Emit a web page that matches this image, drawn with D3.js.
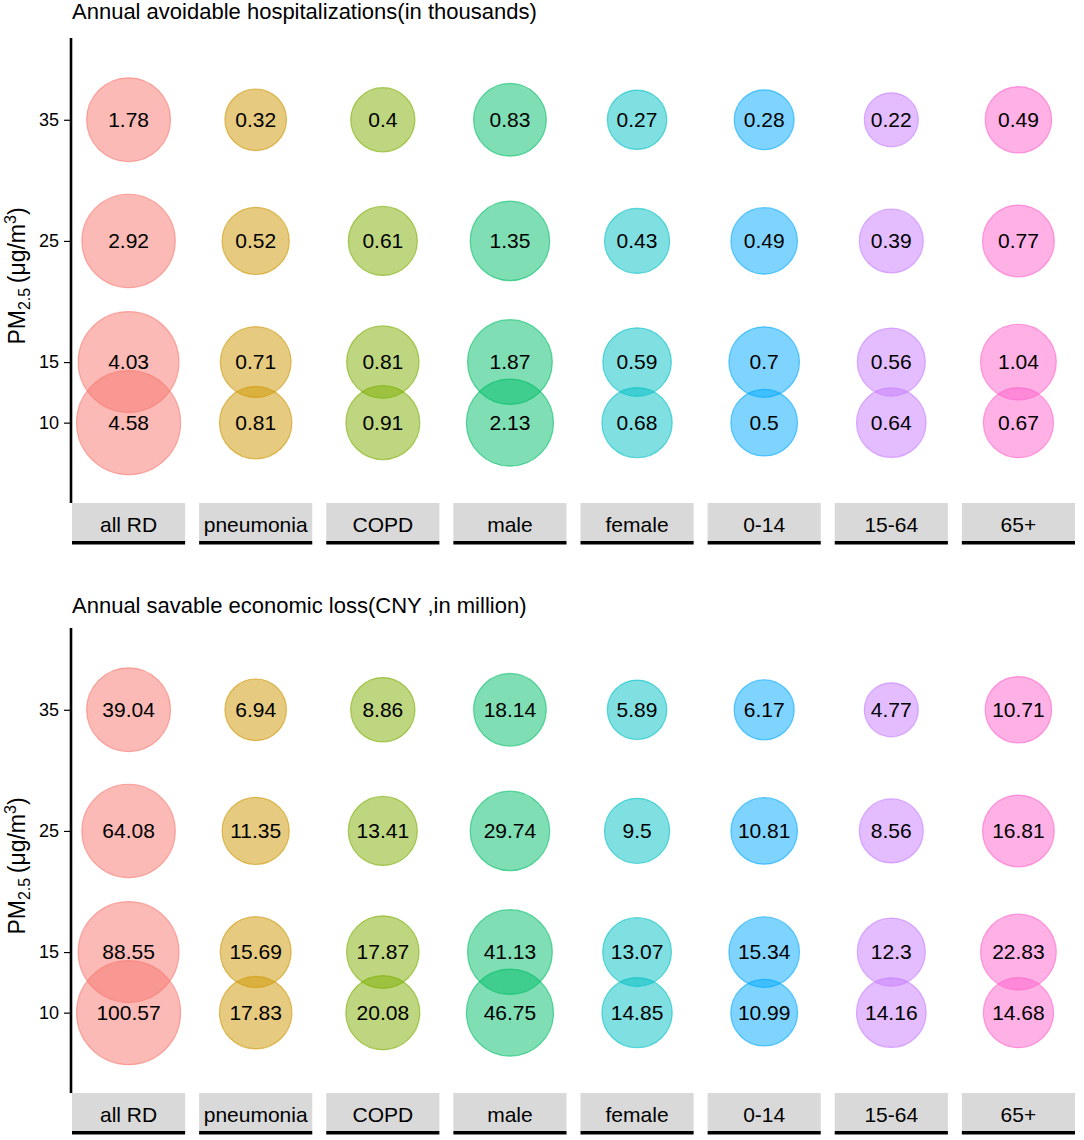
<!DOCTYPE html>
<html>
<head>
<meta charset="utf-8">
<script src="https://cdn.jsdelivr.net/npm/d3@7"></script>
<style>
  body { margin: 0; background: #fff; }
  text { font-family: "Liberation Sans", Arial, sans-serif; }
</style>
</head>
<body>
<div id="chart"></div>
<script>
// categories (facets) and PM2.5 levels
var categories = ["all RD", "pneumonia", "COPD", "male", "female", "0-14", "15-64", "65+"];
var pmLevels = [35, 25, 15, 10];
var colors = ["#F8766D", "#CD9600", "#7CAE00", "#00BE67", "#00BFC4", "#00A9FF", "#C77CFF", "#FF61CC"];

// values per category, in the order of pmLevels
var hospitalizations = [
    [1.78, 2.92, 4.03, 4.58],
    [0.32, 0.52, 0.71, 0.81],
    [0.4, 0.61, 0.81, 0.91],
    [0.83, 1.35, 1.87, 2.13],
    [0.27, 0.43, 0.59, 0.68],
    [0.28, 0.49, 0.7, 0.5],
    [0.22, 0.39, 0.56, 0.64],
    [0.49, 0.77, 1.04, 0.67]
];
var economicLoss = [
    [39.04, 64.08, 88.55, 100.57],
    [6.94, 11.35, 15.69, 17.83],
    [8.86, 13.41, 17.87, 20.08],
    [18.14, 29.74, 41.13, 46.75],
    [5.89, 9.5, 13.07, 14.85],
    [6.17, 10.81, 15.34, 10.99],
    [4.77, 8.56, 12.3, 14.16],
    [10.71, 16.81, 22.83, 14.68]
];
var yTicks = [10, 15, 25, 35];

var width = 1084, height = 1140;
var svg = d3.select("#chart").append("svg").attr("width", width).attr("height", height);

var x = d3.scaleBand().domain(categories).range([72, 1075]).paddingInner(0.11);
var color = d3.scaleOrdinal().domain(categories).range(colors);

function drawPanel(values, title, top, titleY) {
    var panelTop = top + 38, panelBottom = top + 503;
    var g = svg.append("g");

    var y = d3.scaleLinear().domain([3.45, 41.75]).range([top + 502, panelTop]);

    // flatten data
    var points = [];
    categories.forEach(function (c, i) {
        pmLevels.forEach(function (pm, j) {
            points.push({ cat: c, pm: pm, v: values[i][j] });
        });
    });
    var ext = d3.extent(points, function (d) { return d.v; });
    // ggplot-like area scale: diameter 54..104 over the rescaled value
    var r = d3.scaleSqrt().domain([0, ext[1] - ext[0]]).range([27, 52]);

    // title
    g.append("text").attr("x", 72).attr("y", titleY)
        .style("font-size", "22px").text(title);

    // circles
    g.selectAll("circle").data(points).enter().append("circle")
        .attr("cx", function (d) { return x(d.cat) + x.bandwidth() / 2; })
        .attr("cy", function (d) { return y(d.pm); })
        .attr("r", function (d) { return r(d.v - ext[0]); })
        .attr("fill", function (d) { return color(d.cat); })
        .attr("fill-opacity", 0.5)
        .attr("stroke", function (d) { return color(d.cat); })
        .attr("stroke-opacity", 0.6)
        .attr("stroke-width", 1.2);

    g.selectAll("text.lab").data(points).enter().append("text")
        .attr("class", "lab")
        .attr("x", function (d) { return x(d.cat) + x.bandwidth() / 2; })
        .attr("y", function (d) { return y(d.pm); })
        .attr("dy", "0.35em")
        .attr("text-anchor", "middle")
        .style("font-size", "21px")
        .text(function (d) { return d.v; });

    // y axis
    var axis = g.append("g").attr("transform", "translate(70,0)")
        .call(d3.axisLeft(y).tickValues(yTicks).tickSize(6).tickSizeOuter(0).tickPadding(5));
    axis.select(".domain").remove();
    axis.selectAll(".tick line").attr("stroke-width", 1.2);
    axis.selectAll(".tick text").style("font-size", "18px").style("font-family", "Liberation Sans, Arial, sans-serif").attr("fill", "#000");
    g.append("line").attr("x1", 71).attr("x2", 71).attr("y1", panelTop).attr("y2", panelBottom)
        .attr("stroke", "#000").attr("stroke-width", 2.6);

    // y title
    var yt = g.append("text")
        .attr("transform", "translate(25," + (top + 276) + ") rotate(-90)")
        .attr("text-anchor", "middle")
        .style("font-size", "23px");
    yt.append("tspan").text("PM");
    yt.append("tspan").attr("dy", 5).style("font-size", "16px").text("2.5");
    yt.append("tspan").attr("dy", -5).text("\u2009(\u03bcg/m");
    yt.append("tspan").attr("dy", -9).style("font-size", "16px").text("3");
    yt.append("tspan").attr("dy", 9).text(")");

    // strips
    var strips = g.selectAll("g.strip").data(categories).enter().append("g").attr("class", "strip")
        .attr("transform", function (d) { return "translate(" + x(d) + "," + panelBottom + ")"; });
    strips.append("rect").attr("width", x.bandwidth()).attr("height", 38).attr("fill", "#D9D9D9");
    strips.append("rect").attr("y", 38).attr("width", x.bandwidth()).attr("height", 3.5).attr("fill", "#000");
    strips.append("text").attr("x", x.bandwidth() / 2).attr("y", 29)
        .attr("text-anchor", "middle").style("font-size", "21px").text(function (d) { return d; });
}

drawPanel(hospitalizations, "Annual avoidable hospitalizations(in thousands)", 0, 19);
drawPanel(economicLoss, "Annual savable economic loss(CNY ,in million)", 590, 613);
</script>
</body>
</html>
